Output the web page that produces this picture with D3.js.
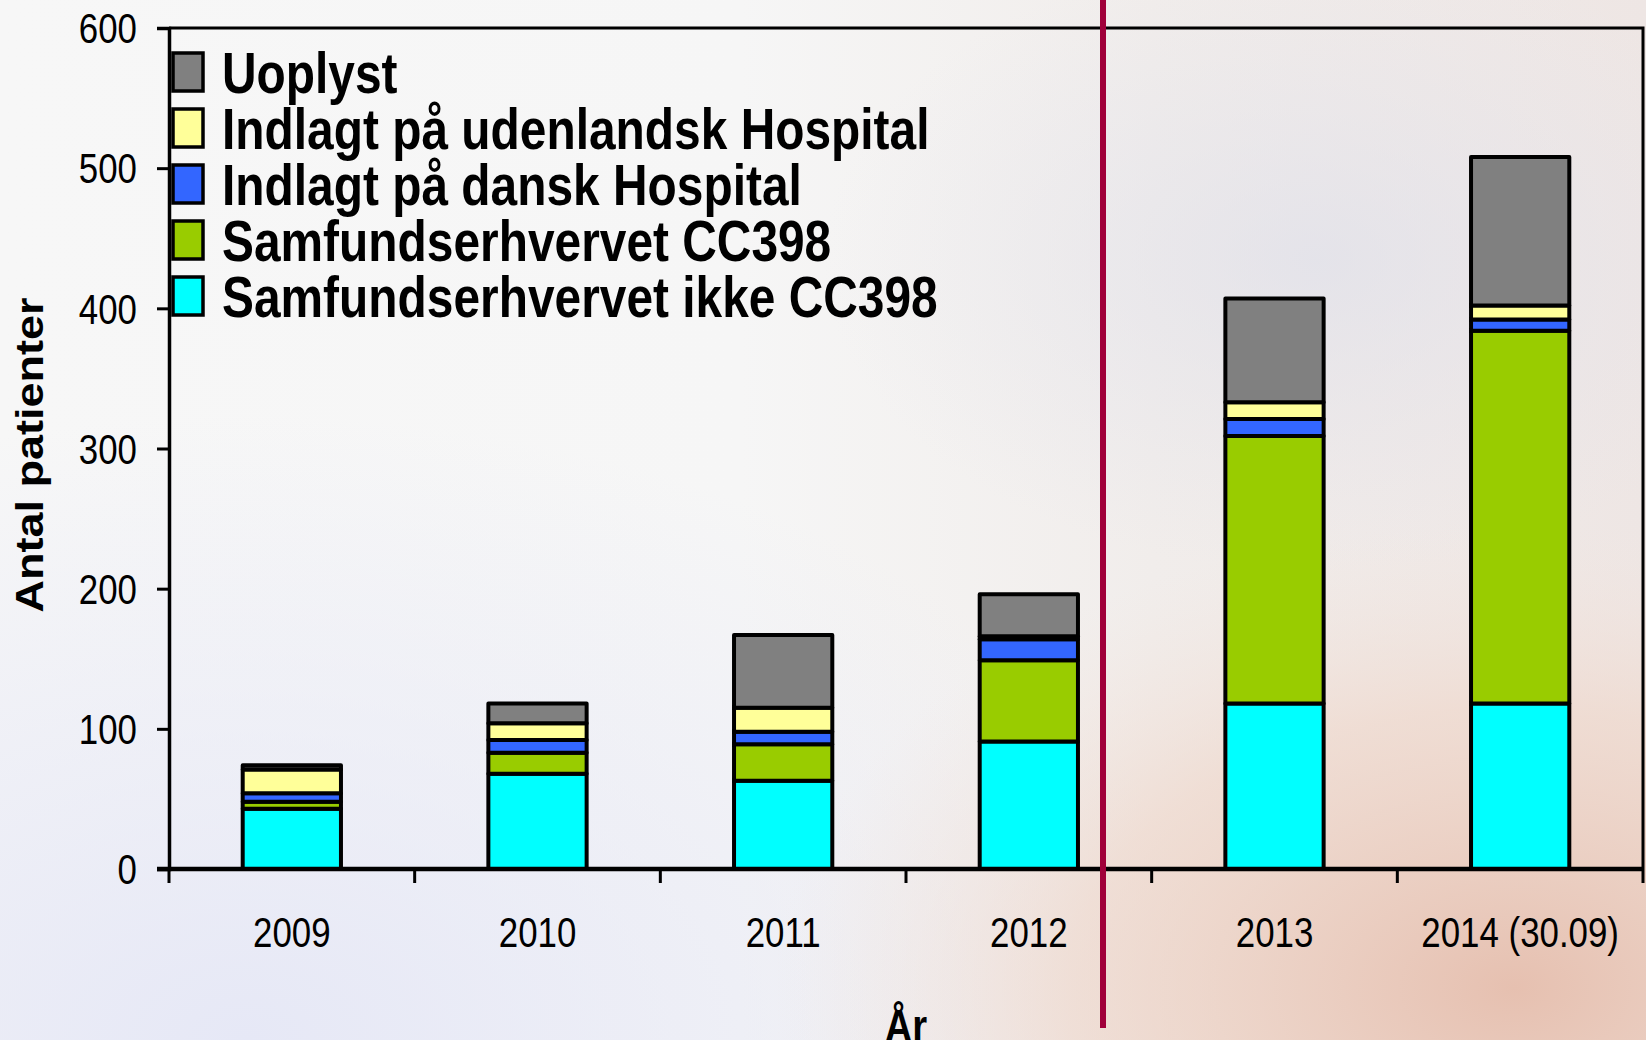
<!DOCTYPE html>
<html>
<head>
<meta charset="utf-8">
<script src="https://cdn.jsdelivr.net/npm/d3@7"></script>
<style>
  html, body { margin: 0; padding: 0; }
  body { width: 1646px; height: 1040px; overflow: hidden; }
  svg { display: block; }
  text { font-family: "Liberation Sans", Arial, sans-serif; }
</style>
</head>
<body>
<svg id="chart" width="1646" height="1040"></svg>
<script>
// years on the x axis
var years = ["2009", "2010", "2011", "2012", "2013", "2014 (30.09)"];

// patients per category, bottom of the stack first
var ikkeCC398  = [43, 68, 63, 91, 118, 118];
var cc398      = [5, 15, 26, 58, 191, 266];
var dansk      = [6, 9, 9, 15, 12, 8];
var udenlandsk = [17, 12, 17, 2, 12, 10];
var uoplyst    = [3, 14, 52, 30, 74, 106];

var seriesNames = [
  "Samfundserhvervet ikke CC398",
  "Samfundserhvervet CC398",
  "Indlagt på dansk Hospital",
  "Indlagt på udenlandsk Hospital",
  "Uoplyst"
];
var seriesColors = ["#00ffff", "#99cc00", "#3366ff", "#ffff99", "#808080"];
var yTicks = [0, 100, 200, 300, 400, 500, 600];

(function() {
  'use strict';

  var rows = years.map(function(yr, i) {
    return {
      year: yr,
      "Samfundserhvervet ikke CC398": ikkeCC398[i],
      "Samfundserhvervet CC398": cc398[i],
      "Indlagt på dansk Hospital": dansk[i],
      "Indlagt på udenlandsk Hospital": udenlandsk[i],
      "Uoplyst": uoplyst[i]
    };
  });

  var svg = d3.select("#chart");
  var W = 1646, H = 1040;
  var m = {left: 169, right: 1643, top: 28, bottom: 869};
  var narrow = 0.83; // no Arial Narrow here, squeeze Liberation Sans instead

  // faded photo-ish background
  var defs = svg.append("defs");
  var bg = defs.append("linearGradient").attr("id", "bgBase")
    .attr("x1", 0).attr("y1", 0).attr("x2", 1).attr("y2", 0);
  bg.append("stop").attr("offset", "0").attr("stop-color", "#f7f7f7");
  bg.append("stop").attr("offset", "0.45").attr("stop-color", "#f6f6f6");
  bg.append("stop").attr("offset", "0.7").attr("stop-color", "#f1edeb");
  bg.append("stop").attr("offset", "1").attr("stop-color", "#eee6e4");

  var lav = defs.append("radialGradient").attr("id", "bgLav")
    .attr("cx", 0.15).attr("cy", 1).attr("r", 0.6);
  lav.append("stop").attr("offset", "0").attr("stop-color", "#e6e8f6").attr("stop-opacity", 1);
  lav.append("stop").attr("offset", "1").attr("stop-color", "#e6e8f6").attr("stop-opacity", 0);

  var warm = defs.append("radialGradient").attr("id", "bgWarm")
    .attr("cx", 0.92).attr("cy", 0.95).attr("r", 0.45);
  warm.append("stop").attr("offset", "0").attr("stop-color", "#e6c0b0").attr("stop-opacity", 1);
  warm.append("stop").attr("offset", "0.6").attr("stop-color", "#efd8cc").attr("stop-opacity", 0.7);
  warm.append("stop").attr("offset", "1").attr("stop-color", "#f2e6e0").attr("stop-opacity", 0);

  var cool = defs.append("radialGradient").attr("id", "bgCool")
    .attr("cx", 0.8).attr("cy", 0.25).attr("r", 0.3);
  cool.append("stop").attr("offset", "0").attr("stop-color", "#dfe0ea").attr("stop-opacity", 0.7);
  cool.append("stop").attr("offset", "1").attr("stop-color", "#e4e4ec").attr("stop-opacity", 0);

  svg.append("rect").attr("width", W).attr("height", H).attr("fill", "url(#bgBase)");
  svg.append("rect").attr("width", W).attr("height", H).attr("fill", "url(#bgLav)");
  svg.append("rect").attr("width", W).attr("height", H).attr("fill", "url(#bgCool)");
  svg.append("rect").attr("width", W).attr("height", H).attr("fill", "url(#bgWarm)");

  var x = d3.scaleBand().domain(years).range([m.left, m.right])
    .paddingInner(0.6).paddingOuter(0.3);
  var y = d3.scaleLinear().domain([0, 600]).range([m.bottom, m.top]);

  var layers = d3.stack().keys(seriesNames)(rows);

  // plot frame (top and right)
  svg.append("path")
    .attr("d", "M" + m.left + "," + m.top + "H" + m.right + "V" + m.bottom)
    .attr("fill", "none").attr("stroke", "#000").attr("stroke-width", 3);

  // bars
  svg.append("g").selectAll("g").data(layers).join("g")
    .attr("fill", function(d, i) { return seriesColors[i]; })
    .selectAll("rect").data(function(d) { return d; }).join("rect")
    .attr("x", function(d) { return x(d.data.year); })
    .attr("width", x.bandwidth())
    .attr("y", function(d) { return y(d[1]); })
    .attr("height", function(d) { return y(d[0]) - y(d[1]); })
    .attr("stroke", "#000").attr("stroke-width", 4)
    .attr("stroke-linejoin", "round");

  // y axis
  var yAxis = svg.append("g").attr("transform", "translate(" + m.left + ",0)")
    .call(d3.axisLeft(y).tickValues(yTicks).tickSize(12).tickPadding(20).tickFormat(d3.format("d")));
  yAxis.select(".domain").attr("stroke-width", 3.5);
  yAxis.selectAll(".tick line").attr("stroke-width", 3);
  yAxis.selectAll(".tick text")
    .attr("font-family", null).attr("font-size", 42).attr("fill", "#000")
    .attr("dy", "0.35em")
    .attr("x", -32 / narrow)
    .attr("transform", "scale(" + narrow + ",1)");

  // x axis with ticks between the bands
  var xAxis = svg.append("g").attr("transform", "translate(0," + m.bottom + ")")
    .call(d3.axisBottom(x).tickSize(0).tickPadding(48));
  xAxis.select(".domain").attr("stroke-width", 4.5)
    .attr("d", "M" + (m.left - 12) + ",0H" + m.right);
  xAxis.selectAll(".tick text")
    .attr("font-family", null).attr("font-size", 42).attr("fill", "#000")
    .attr("transform", "scale(" + narrow + ",1)");
  var edges = years.map(function(yr) { return x(yr) - x.step() * x.paddingInner() / 2; });
  edges[0] = m.left;
  edges.push(m.right);
  xAxis.append("g").selectAll("line").data(edges).join("line")
    .attr("x1", function(d) { return d; }).attr("x2", function(d) { return d; })
    .attr("y1", 0).attr("y2", 14)
    .attr("stroke", "#000").attr("stroke-width", 3);

  // separator between 2012 and 2013
  svg.append("line")
    .attr("x1", 1103).attr("x2", 1103).attr("y1", 0).attr("y2", 1028)
    .attr("stroke", "#a0003a").attr("stroke-width", 6);

  // axis titles
  svg.append("text")
    .attr("transform", "translate(43,455) rotate(-90)")
    .attr("text-anchor", "middle")
    .attr("font-weight", "bold").attr("font-size", 39)
    .attr("textLength", 315).attr("lengthAdjust", "spacingAndGlyphs")
    .text("Antal patienter");

  svg.append("text")
    .attr("transform", "translate(" + ((m.left + m.right) / 2) + ",1042) scale(" + narrow + ",1)")
    .attr("text-anchor", "middle")
    .attr("font-weight", "bold").attr("font-size", 46)
    .text("År");

  // legend, top entry is the top of the stack
  var legendOrder = seriesNames.slice().reverse();
  var legend = svg.append("g").selectAll("g").data(legendOrder).join("g")
    .attr("transform", function(d, i) { return "translate(173," + (93 + i * 56) + ")"; });
  legend.append("rect")
    .attr("x", 0).attr("y", -40).attr("width", 30).attr("height", 38)
    .attr("fill", function(d) { return seriesColors[seriesNames.indexOf(d)]; })
    .attr("stroke", "#000").attr("stroke-width", 3.5);
  legend.append("text")
    .attr("transform", "translate(49,0) scale(0.84,1)")
    .attr("font-weight", "bold").attr("font-size", 57)
    .text(function(d) { return d; });
}());
</script>
</body>
</html>
